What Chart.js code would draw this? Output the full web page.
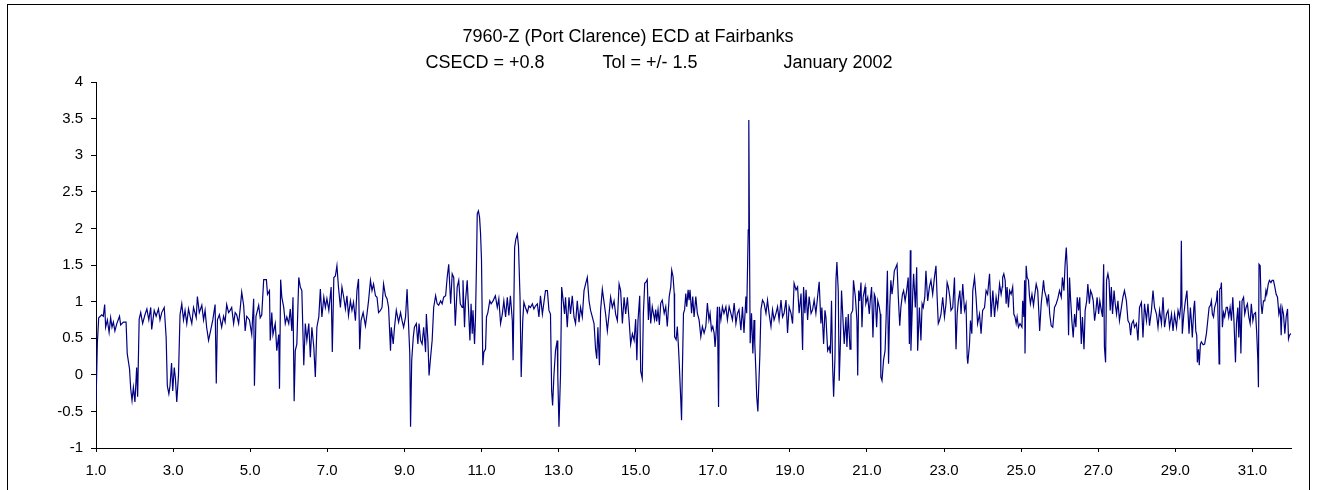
<!DOCTYPE html>
<html>
<head>
<meta charset="utf-8">
<script src="https://cdn.jsdelivr.net/npm/chart.js@4.4.1/dist/chart.umd.min.js"></script>
<style>
  body { margin: 0; background: #fff; }
  canvas { display: block; }
</style>
</head>
<body>
<canvas id="ecd-chart" width="1317" height="490"></canvas>
<script>
// day of month (fractional) and ECD reading
var days = [
  // 1 - 5.8
  1.000,1.035,1.07,1.15,1.19,1.225,1.25,1.295,1.34,1.38,1.415,1.45,1.49,1.54,1.61,1.64,1.71,1.78,1.81,1.87,
  1.90,1.935,1.97,2.01,2.055,2.08,2.12,2.16,2.21,2.27,2.32,2.37,2.42,2.445,2.51,2.56,2.62,2.66,2.705,2.77,
  2.82,2.85,2.89,2.92,2.96,2.99,3.03,3.06,3.095,3.14,3.18,3.225,3.27,3.31,3.355,3.40,3.44,3.485,3.53,3.60,
  3.63,3.68,3.745,3.79,3.83,3.87,3.92,3.98,4.03,4.09,4.12,4.15,4.20,4.26,4.31,4.35,4.39,4.44,4.48,4.52,
  4.57,4.61,4.65,4.70,4.74,4.78,4.83,4.87,4.91,4.98,5.04,5.09,5.11,5.15,5.22,5.26,5.30,5.35,5.42,5.45,
  5.50,5.52,5.56,5.59,5.65,5.69,5.74,5.76,
  // 5.8 - 10.5
  5.79,5.82,5.87,5.91,5.95,6.00,6.04,6.08,6.11,6.14,6.17,6.21,6.26,6.30,6.34,6.39,6.43,6.47,6.52,6.56,
  6.60,6.65,6.69,6.73,6.78,6.82,6.86,6.91,6.95,6.99,7.04,7.10,7.13,7.17,7.21,7.25,7.29,7.34,7.38,7.42,
  7.47,7.51,7.55,7.60,7.64,7.68,7.73,7.77,7.81,7.84,7.875,7.93,7.99,8.03,8.07,8.12,8.16,8.20,8.25,8.29,
  8.33,8.38,8.42,8.46,8.51,8.55,8.59,8.64,8.66,8.71,8.74,8.79,8.85,8.90,8.94,8.98,9.03,9.07,9.10,9.14,
  9.16,9.19,9.23,9.26,9.31,9.35,9.38,9.42,9.46,9.50,9.55,9.57,9.61,9.64,9.68,9.72,9.76,9.81,9.85,9.89,
  9.94,9.98,10.02,10.07,10.11,10.15,10.20,10.24,10.28,10.32,10.37,10.41,10.45,
  // 10.5 - 15.1
  10.50,10.52,10.56,10.585,10.63,10.67,10.70,10.73,10.76,10.78,10.82,10.845,10.87,10.89,10.92,10.95,10.975,11.0,11.035,11.06,
  11.105,11.13,11.165,11.215,11.25,11.30,11.36,11.41,11.45,11.495,11.54,11.58,11.625,11.67,11.71,11.75,11.80,11.82,11.86,11.89,
  11.93,11.96,12.0,12.03,12.07,12.10,12.14,12.19,12.23,12.27,12.32,12.36,12.40,12.45,12.49,12.53,12.58,12.62,12.66,12.71,
  12.75,12.79,12.82,12.845,12.88,12.92,12.965,12.98,13.01,13.05,13.08,13.12,13.155,13.18,13.225,13.27,13.31,13.355,13.40,13.44,
  13.485,13.53,13.57,13.615,13.66,13.70,13.745,13.79,13.83,13.875,13.92,13.96,13.99,14.02,14.06,14.09,14.135,14.18,14.22,14.265,
  14.31,14.35,14.395,14.44,14.48,14.525,14.57,14.61,14.655,14.70,14.74,14.785,14.83,14.87,14.915,14.96,15.0,15.03,15.06,15.105,
  // 15.1 - 19.8
  15.13,15.17,15.20,15.235,15.27,15.30,15.33,15.36,15.39,15.43,15.46,15.49,15.52,15.545,15.58,15.615,15.65,15.69,15.74,15.78,
  15.82,15.87,15.91,15.935,15.97,16.0,16.01,16.05,16.08,16.11,16.13,16.17,16.19,16.21,16.24,16.27,16.30,16.325,16.36,16.385,
  16.41,16.45,16.48,16.515,16.56,16.60,16.645,16.69,16.73,16.775,16.82,16.86,16.90,16.93,16.965,17.0,17.035,17.06,17.09,17.12,
  17.15,17.17,17.21,17.25,17.29,17.34,17.38,17.425,17.47,17.51,17.555,17.60,17.64,17.68,17.73,17.77,17.81,17.86,17.88,17.92,
  17.935,17.95,17.97,18.005,18.04,18.07,18.09,18.12,18.14,18.17,18.195,18.22,18.25,18.29,18.33,18.38,18.42,18.46,18.51,18.55,
  18.59,18.64,18.68,18.72,18.77,18.81,18.85,18.90,18.94,18.98,19.03,19.07,19.11,19.16,19.20,19.24,19.29,19.33,19.355,19.39,
  19.42,19.46,19.50,19.55,19.59,19.63,19.675,19.72,19.76,19.805,
  // 19.8 - 24.5
  19.83,19.875,19.91,19.935,19.98,20.02,20.05,20.08,20.11,20.135,20.17,20.195,20.22,20.255,20.28,20.31,20.34,20.37,20.41,20.455,
  20.48,20.515,20.56,20.585,20.63,20.65,20.70,20.74,20.76,20.785,20.81,20.845,20.87,20.90,20.95,20.97,21.02,21.06,21.085,21.12,
  21.155,21.19,21.215,21.25,21.28,21.32,21.345,21.36,21.39,21.43,21.47,21.50,21.53,21.56,21.59,21.62,21.65,21.68,21.71,21.75,
  21.78,21.81,21.85,21.88,21.92,21.95,21.99,22.03,22.07,22.10,22.125,22.14,22.19,22.21,22.255,22.29,22.315,22.36,22.40,22.43,
  22.46,22.5,22.53,22.575,22.62,22.66,22.705,22.75,22.79,22.82,22.85,22.88,22.92,22.965,23.01,23.05,23.08,23.11,23.15,23.18,
  23.225,23.27,23.31,23.34,23.37,23.41,23.44,23.485,23.53,23.57,23.60,23.615,23.66,23.685,23.72,23.745,23.79,23.83,23.87,23.92,
  23.96,24.0,24.05,24.09,24.13,24.18,24.22,24.265,24.31,24.35,24.39,24.44,24.48,
  // 24.5 - 29.1
  24.51,24.52,24.55,24.585,24.61,24.635,24.67,24.70,24.74,24.78,24.81,24.84,24.87,24.895,24.93,24.97,25.02,25.04,25.07,25.09,
  25.10,25.13,25.155,25.19,25.215,25.24,25.28,25.32,25.345,25.39,25.43,25.46,25.48,25.52,25.545,25.58,25.605,25.65,25.675,25.71,
  25.74,25.78,25.82,25.865,25.91,25.95,25.995,26.04,26.07,26.11,26.14,26.17,26.195,26.23,26.255,26.28,26.315,26.35,26.385,26.42,
  26.455,26.49,26.52,26.56,26.59,26.63,26.66,26.70,26.73,26.77,26.80,26.835,26.87,26.905,26.94,26.97,27.01,27.04,27.08,27.11,
  27.14,27.16,27.19,27.215,27.25,27.28,27.31,27.34,27.37,27.41,27.44,27.475,27.51,27.55,27.60,27.64,27.68,27.73,27.77,27.81,
  27.84,27.87,27.91,27.94,27.99,28.03,28.07,28.12,28.16,28.20,28.25,28.29,28.33,28.38,28.42,28.46,28.51,28.55,28.59,28.64,
  28.68,28.72,28.77,28.81,28.85,28.90,28.94,28.98,29.03,29.07,29.11,
  // 29.1 - 32
  29.14,29.155,29.18,29.22,29.26,29.30,29.33,29.355,29.39,29.415,29.44,29.48,29.50,29.53,29.555,29.57,29.60,29.62,29.65,29.675,
  29.72,29.76,29.805,29.85,29.875,29.91,29.935,29.96,29.99,30.02,30.065,30.09,30.11,30.135,30.15,30.18,30.195,30.22,30.25,30.28,
  30.32,30.35,30.385,30.42,30.455,30.49,30.52,30.56,30.585,30.62,30.645,30.67,30.70,30.73,30.77,30.80,30.835,30.87,30.905,30.94,
  30.97,31.01,31.04,31.08,31.11,31.14,31.155,31.17,31.20,31.225,31.25,31.285,31.32,31.35,31.37,31.41,31.44,31.48,31.51,31.545,
  31.58,31.615,31.65,31.685,31.72,31.745,31.77,31.805,31.84,31.875,31.91,31.935,31.96,31.99,32.0
];

var ecd = [
  // 1 - 5.8
  -0.42,0.43,0.78,0.82,0.80,0.96,0.65,0.75,0.58,0.78,0.65,0.72,0.60,0.70,0.80,0.68,0.72,0.72,0.29,0.08,
  -0.19,-0.35,-0.17,-0.37,0.10,-0.30,0.76,0.85,0.70,0.82,0.90,0.75,0.92,0.62,0.88,0.80,0.90,0.75,0.85,0.92,
  0.51,-0.15,-0.26,-0.15,0.16,-0.22,0.10,-0.05,-0.37,0.00,0.82,0.97,0.75,0.88,0.70,0.90,0.80,0.70,0.92,0.78,
  1.07,0.85,0.95,0.75,0.88,0.65,0.47,0.62,0.75,0.96,-0.12,0.75,0.82,0.65,0.80,0.72,0.96,0.85,0.88,0.92,
  0.70,0.85,0.82,0.70,0.90,1.13,0.95,0.60,0.80,0.75,0.55,1.04,-0.15,0.80,0.95,0.78,0.82,1.30,1.30,1.10,
  1.15,0.47,0.85,0.55,0.70,0.33,0.55,-0.19,
  // 5.8 - 10.5
  1.30,1.06,0.92,0.70,0.79,0.70,0.90,0.60,1.06,-0.36,0.33,0.42,1.33,1.20,1.15,0.13,0.70,0.47,0.70,0.24,
  0.65,0.38,-0.03,0.65,0.79,1.17,0.79,1.06,0.92,1.04,0.88,1.20,0.31,1.33,1.35,1.49,1.20,0.92,1.20,1.08,
  0.90,1.08,0.81,1.01,0.88,0.99,0.74,1.15,1.31,0.35,0.74,0.85,0.67,0.83,1.01,1.29,1.15,1.24,1.08,1.06,
  0.85,0.88,0.92,1.24,1.08,1.04,0.92,0.33,0.65,0.42,0.63,0.88,0.72,0.85,0.74,0.65,0.79,1.17,0.79,0.29,
  -0.71,0.20,0.51,0.65,0.70,0.42,0.70,0.47,0.42,0.65,0.31,0.83,0.47,-0.01,0.24,0.47,0.92,1.08,0.97,0.95,
  1.01,0.97,1.06,1.08,1.33,1.51,0.97,1.38,1.33,0.67,1.20,1.29,0.97,
  // 10.5 - 15.1
  0.92,1.29,0.65,1.01,1.29,0.83,0.47,0.97,0.56,0.88,0.42,0.79,1.50,2.20,2.24,2.15,1.94,1.58,0.13,0.31,
  0.35,0.79,0.85,1.01,0.97,1.01,1.08,0.92,1.04,0.70,0.83,1.01,0.79,1.06,0.81,1.08,0.74,0.20,1.74,1.85,
  1.92,1.76,1.06,-0.03,0.74,0.99,0.92,0.85,0.94,0.92,0.97,0.90,0.94,0.97,0.79,1.08,0.83,0.99,1.15,1.15,
  0.88,0.83,-0.22,-0.42,0.00,0.33,0.47,-0.03,-0.71,0.00,1.20,1.01,0.83,1.06,0.65,1.06,0.83,1.08,0.79,0.70,
  1.01,0.72,0.92,0.79,1.15,1.24,1.33,1.01,0.88,0.79,0.70,0.35,0.22,0.65,0.13,0.88,1.17,0.99,0.83,0.60,
  0.83,1.06,0.92,1.01,0.83,0.74,1.24,1.15,0.70,1.06,0.83,1.06,0.74,0.42,0.56,0.47,0.76,0.20,0.74,1.08,
  // 15.1 - 19.8
  0.05,-0.05,0.84,1.25,1.27,1.30,0.75,1.07,0.70,0.93,0.84,0.75,0.89,0.73,0.89,0.68,0.98,1.02,0.84,0.93,
  0.66,1.07,1.20,1.43,1.34,1.11,0.52,0.48,0.66,0.38,0.16,-0.34,-0.62,0.02,0.84,0.89,1.11,0.93,1.16,1.02,
  1.16,0.84,1.07,0.79,1.07,0.84,0.75,0.52,0.66,0.57,0.66,0.98,0.75,0.84,0.61,0.66,0.57,0.38,0.61,0.93,
  -0.44,0.93,0.75,0.93,0.84,0.93,0.75,0.93,0.84,0.75,0.98,0.70,0.84,0.89,0.61,0.93,0.57,1.07,0.84,1.98,
  3.48,1.98,0.43,0.84,0.29,0.75,0.43,0.02,-0.30,-0.50,-0.12,0.25,0.89,1.02,0.98,0.84,1.02,0.84,0.66,0.89,
  0.75,0.84,0.93,0.75,1.02,0.79,0.84,1.02,0.57,0.93,0.84,0.70,1.25,1.16,1.20,0.84,1.11,0.34,1.20,0.84,
  1.16,0.75,1.07,0.84,0.89,1.02,0.84,1.07,1.27,0.70,
  // 19.8 - 24.5
  0.92,0.42,0.88,0.79,0.33,0.38,0.29,1.01,0.10,-0.30,0.24,1.29,1.54,1.15,-0.08,0.42,1.15,0.83,0.42,0.79,
  0.38,0.83,0.35,0.83,0.88,1.29,1.06,0.74,-0.01,1.15,1.01,1.26,0.65,1.06,1.20,0.97,1.06,0.83,1.01,1.20,
  0.51,1.10,1.06,0.65,1.01,0.92,0.83,-0.03,-0.08,0.20,0.33,0.83,1.42,0.15,0.92,1.29,1.10,1.24,1.42,1.47,
  1.51,1.10,0.67,0.92,1.10,1.15,1.01,1.15,1.33,0.42,1.70,0.33,1.15,1.38,0.92,1.47,0.33,0.92,0.47,0.97,
  0.92,1.06,1.42,1.01,1.20,1.29,1.10,1.33,1.49,1.06,0.70,0.74,0.83,1.06,0.79,0.97,1.26,1.20,1.06,0.88,
  0.92,1.33,0.35,0.83,1.01,1.15,0.83,1.24,0.88,0.97,0.24,0.15,0.42,0.74,0.56,1.15,1.33,1.06,0.70,0.83,
  0.56,0.88,0.92,1.15,1.10,1.38,0.79,1.15,0.79,1.06,0.92,1.24,1.10,
  // 24.5 - 29.1
  1.20,1.33,1.38,1.29,0.97,1.20,0.92,1.15,1.10,1.20,0.83,0.79,0.70,0.79,0.65,0.70,0.65,1.01,0.79,1.29,
  0.29,1.49,1.33,1.29,1.08,0.97,1.10,0.95,1.06,1.24,1.15,0.83,0.60,0.97,1.10,1.29,1.15,1.06,0.97,1.10,
  0.83,0.67,0.65,0.92,0.97,1.04,1.15,1.06,1.33,1.15,1.51,1.74,1.47,0.54,1.33,1.06,0.74,0.51,0.83,0.65,
  1.06,0.88,1.06,0.42,0.79,0.35,0.88,1.01,1.24,0.97,1.15,1.10,1.01,0.74,0.88,1.06,0.83,1.01,0.88,0.79,
  1.51,0.38,0.17,1.29,1.38,1.29,0.88,1.20,0.83,1.15,0.97,0.83,1.01,0.74,0.92,1.06,1.15,1.01,0.74,0.70,
  0.54,0.70,0.74,0.65,0.70,0.47,0.92,0.99,0.51,0.97,0.74,0.97,0.67,0.88,1.15,0.92,0.83,0.65,0.88,0.70,
  1.06,0.65,0.83,0.88,0.65,0.83,0.60,0.83,0.65,0.88,0.79,
  // 29.1 - 32
  0.95,1.83,0.56,0.83,1.01,1.15,0.83,0.56,0.92,0.74,0.51,0.92,1.01,0.60,0.54,0.17,0.35,0.13,0.42,0.45,
  0.41,0.42,0.56,0.79,0.92,0.95,1.01,0.83,0.79,0.92,1.01,1.15,0.74,0.15,1.17,1.19,1.26,0.65,0.85,0.79,
  0.92,0.92,0.79,0.92,0.74,1.06,0.74,0.17,0.70,0.92,0.51,1.01,0.29,1.01,1.06,0.83,0.92,0.97,0.79,0.70,
  0.97,0.74,0.83,0.85,0.58,0.20,-0.17,1.51,1.49,0.97,0.83,1.01,1.01,1.15,1.10,1.24,1.29,1.26,1.29,1.29,
  1.20,1.10,1.06,0.83,0.92,0.54,0.92,0.83,0.56,0.79,0.90,0.49,0.54,0.56,0.56
];

// axis ranges and the day ticks that carry labels
var xMin = 1, xMax = 32;
var xTicks = [1, 3, 5, 7, 9, 11, 13, 15, 17, 19, 21, 23, 25, 27, 29, 31];
var yMin = -1, yMax = 4, yStep = 0.5;

var titleLine1 = '7960-Z (Port Clarence) ECD at Fairbanks';
var titleLine2 = ['CSECD = +0.8', 'Tol = +/- 1.5', 'January 2002'];

var fontFamily = "'Liberation Sans', Arial, sans-serif";

// outer frame and the two title lines (Excel style, not centred on the plot)
const frameAndTitle = {
  id: 'frameAndTitle',
  beforeDraw(chart) {
    const ctx = chart.ctx;
    ctx.save();
    ctx.fillStyle = '#fff';
    ctx.fillRect(0, 0, chart.width, chart.height);
    ctx.strokeStyle = '#000';
    ctx.lineWidth = 1;
    // bottom edge sits below the visible picture
    ctx.strokeRect(7.5, 4.5, 1302, 500);

    ctx.fillStyle = '#000';
    ctx.font = '18px ' + fontFamily;
    ctx.textAlign = 'center';
    ctx.textBaseline = 'middle';
    ctx.fillText(titleLine1, 628, 37);
    ctx.fillText(titleLine2[0], 485, 63);
    ctx.fillText(titleLine2[1], 650, 63);
    ctx.fillText(titleLine2[2], 838, 63);
    ctx.restore();
  }
};

function buildPoints(xs, ys) {
  var pts = [];
  for (let i = 0; i < xs.length; i++) {
    pts.push({ x: xs[i], y: ys[i] });
  }
  return pts;
};

function ecdChart(id) {
  const ctx = document.getElementById(id);
  Chart.defaults.color = '#000';
  Chart.defaults.font.family = fontFamily;

  return new Chart(ctx, {
    type: 'line',
    data: {
      datasets: [{
        data: buildPoints(days, ecd),
        borderColor: '#000080',
        borderWidth: 1.2,
        pointRadius: 0,
        tension: 0,
        fill: false
      }]
    },
    options: {
      responsive: false,
      animation: false,
      devicePixelRatio: 1,
      layout: {
        padding: { top: 82, left: 0, right: 26, bottom: 0 }
      },
      scales: {
        x: {
          type: 'linear',
          min: xMin,
          max: xMax,
          afterBuildTicks: function(scale) {
            scale.ticks = xTicks.map(v => ({ value: v }));
          },
          afterFit: function(scale) { scale.height = 42; },
          ticks: {
            autoSkip: false,
            maxRotation: 0,
            padding: 10,
            font: { size: 15 },
            callback: v => v.toFixed(1)
          },
          grid: { drawOnChartArea: false, drawTicks: true, tickLength: 4, color: '#000' },
          border: { display: true, color: '#000', width: 1 }
        },
        y: {
          min: yMin,
          max: yMax,
          afterFit: function(scale) { scale.width = 96; },
          ticks: {
            stepSize: yStep,
            padding: 8,
            font: { size: 15 },
            callback: v => String(v)
          },
          grid: { drawOnChartArea: false, drawTicks: true, tickLength: 5, color: '#000' },
          border: { display: true, color: '#000', width: 1 }
        }
      },
      plugins: {
        legend: { display: false },
        tooltip: { enabled: false }
      }
    },
    plugins: [frameAndTitle]
  });
};

ecdChart('ecd-chart');
</script>
</body>
</html>
